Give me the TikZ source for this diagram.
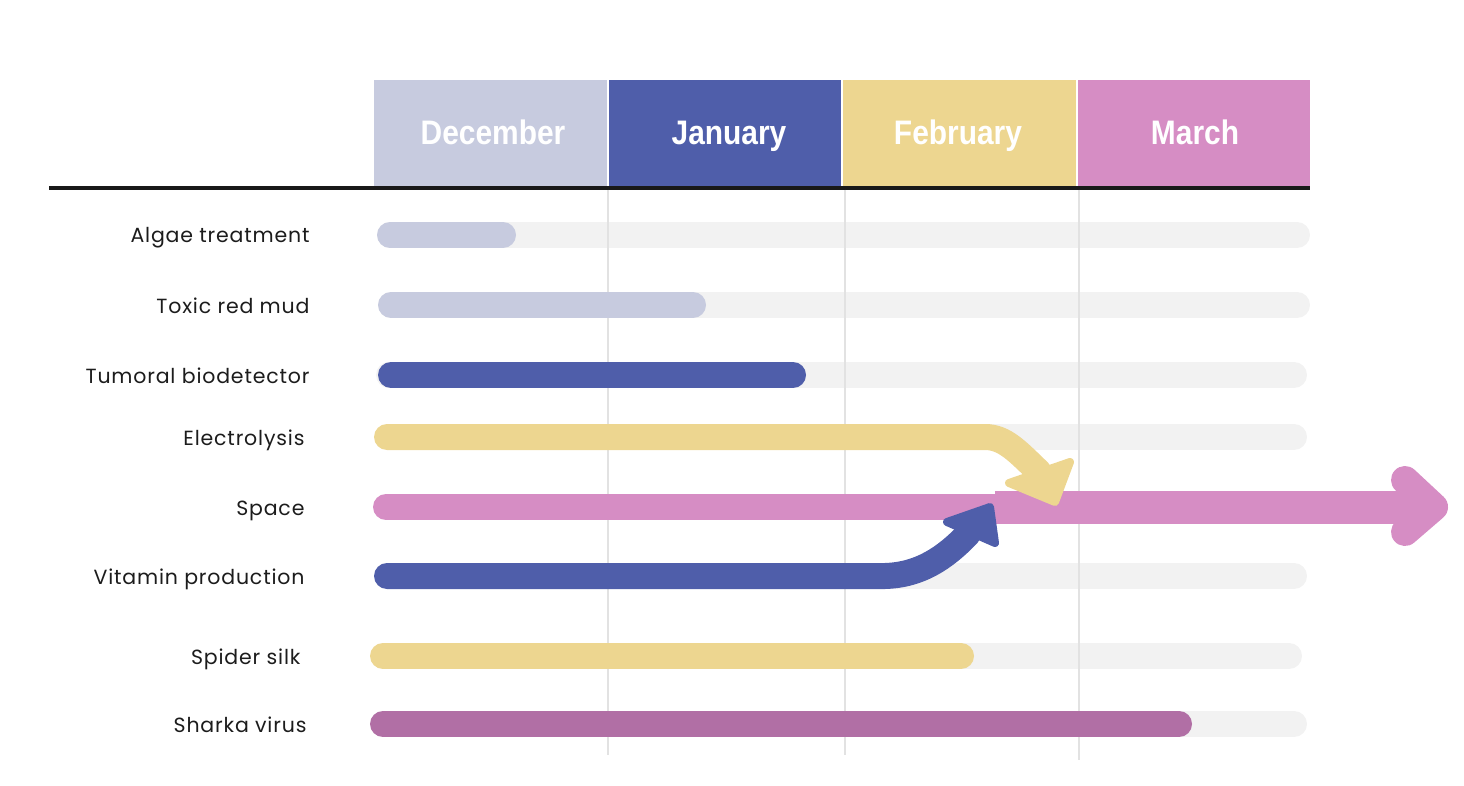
\documentclass[tikz,border=0pt]{standalone}
\usepackage{fontspec}
\setmainfont{Poppins}[LetterSpace=4]
\newfontfamily\headfont{Liberation Sans}[FakeStretch=0.88]
\definecolor{decC}{HTML}{C7CBDF}
\definecolor{janC}{HTML}{4F5EAA}
\definecolor{febC}{HTML}{EDD690}
\definecolor{marC}{HTML}{D68DC4}
\definecolor{shaC}{HTML}{B16FA5}
\definecolor{trackC}{HTML}{F2F2F2}
\definecolor{gridC}{HTML}{E2E2E2}
\definecolor{txtC}{HTML}{1C1C1C}
\begin{document}
\begin{tikzpicture}[x=1pt,y=-1pt,
  month/.style={fill=#1,draw=none},
  mlabel/.style={text=white,font=\headfont\bfseries\fontsize{34}{36}\selectfont,anchor=base},
  rowlabel/.style={text=txtC,font=\fontsize{20.5}{22}\selectfont,anchor=base east},
  track/.style={draw=trackC,line width=26pt,line cap=round},
  bar/.style={draw=#1,line width=26pt,line cap=round},
  gridline/.style={draw=gridC,line width=1.5pt},
  head/.style={fill=#1,draw=#1,line width=8pt,line join=round}]
\useasboundingbox (0,0) rectangle (1464,786);
% header boxes
\fill[month=decC] (374,80) rectangle (607,187);
\fill[month=janC] (609,80) rectangle (841,187);
\fill[month=febC] (843,80) rectangle (1076,187);
\fill[month=marC] (1078,80) rectangle (1310,187);
\node[mlabel] (dec) at (493,145) {December};
\node[mlabel] (jan) at (729,145) {January};
\node[mlabel] (feb) at (958,145) {February};
\node[mlabel] (mar) at (1195,145) {March};
\draw[line width=4pt,draw=black!90] (49,188) -- (1310,188);
% tracks
\draw[track] (390,235) -- (1297,235);
\draw[track] (391,305) -- (1297,305);
\draw[track] (389,375) -- (1294,375);
\draw[track] (389,437) -- (1294,437);
\draw[track] (389,576) -- (1294,576);
\draw[track] (385,656) -- (1289,656);
\draw[track] (385,724) -- (1294,724);
% grid lines
\draw[gridline] (608,190) -- (608,755);
\draw[gridline] (845,190) -- (845,755);
\draw[gridline] (1079,190) -- (1079,760);
% labels
\node[rowlabel] (l1) at (313,243) {Algae treatment};
\node[rowlabel] (l2) at (313,313) {Toxic red mud};
\node[rowlabel] (l3) at (313,383) {Tumoral biodetector};
\node[rowlabel] (l4) at (308,445) {Electrolysis};
\node[rowlabel] (l5) at (308,515) {Space};
\node[rowlabel] (l6) at (308,584) {Vitamin production};
\node[rowlabel] (l7) at (304,664) {Spider silk};
\node[rowlabel] (l8) at (310,732) {Sharka virus};
% bars
\draw[bar=decC] (390,235) -- (503,235);
\draw[bar=decC] (391,305) -- (693,305);
\draw[bar=janC] (391,375) -- (793,375);
\draw[bar=febC] (383,656) -- (961,656);
\draw[bar=shaC] (383,724) -- (1179,724);
% space arrow
\coordinate (s0) at (386,507);
\coordinate (s1) at (1000,507);
\coordinate (s2) at (1430,507);
\draw[bar=marC] (s0) -- (s1);
\draw[draw=marC,line width=33pt] (995,507) -- (s2);
\draw[draw=marC,line width=28pt,line cap=round,line join=round] (1405,480) -- (1434,507) -- (1405,532);
% electrolysis arrow
\coordinate (e0) at (387,437);
\coordinate (e1) at (1039,472);
\draw[bar=febC,line cap=round] (e0) -- (985,437) .. controls (1005,437) and (1018,452) .. (e1);
\filldraw[head=febC] (1070,462) -- (1009,483) -- (1055,502) -- cycle;
% vitamin arrow
\coordinate (v0) at (387,576);
\coordinate (v1) at (968,534);
\draw[bar=janC,line cap=round] (v0) -- (885,576) .. controls (920,575) and (945,558) .. (v1);
\filldraw[head=janC] (990,507) -- (947,522) -- (995,543) -- cycle;
\end{tikzpicture}
\end{document}
